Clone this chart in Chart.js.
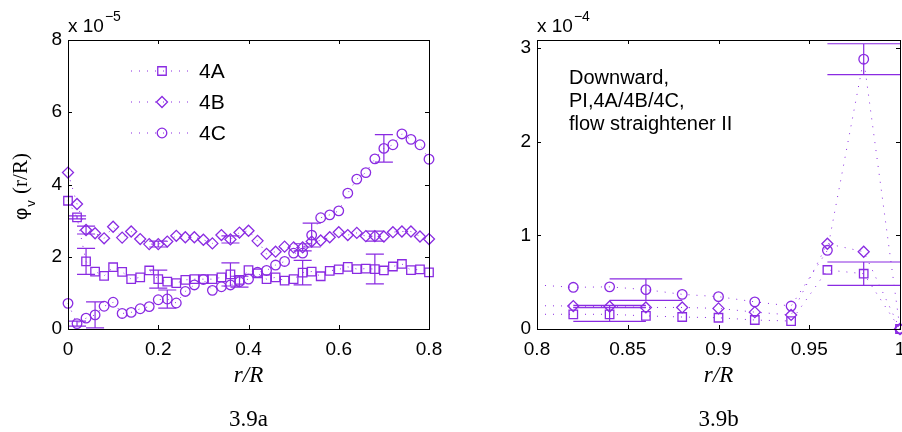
<!DOCTYPE html>
<html>
<head>
<meta charset="utf-8">
<script src="https://cdn.jsdelivr.net/npm/chart.js@4.4.0/dist/chart.umd.min.js"></script>
<style>
  html, body { margin: 0; padding: 0; background: #fff; overflow: hidden; }
  body { width: 902px; height: 432px; position: relative; }
  canvas { position: absolute; top: 0; }
  #chartA { left: 0; }
  #chartB { left: 469px; }
</style>
</head>
<body>
<canvas id="chartA" width="470" height="432"></canvas>
<canvas id="chartB" width="470" height="432"></canvas>
<script>
// ---- 3.9a : r/R from 0 to 0.8, phi_v in units of 1e-5 ----
const rA = [0, 0.02, 0.04, 0.06, 0.08, 0.1, 0.12, 0.14, 0.16, 0.18, 0.2, 0.22, 0.24, 0.26, 0.28, 0.3,
  0.32, 0.34, 0.36, 0.38, 0.4, 0.42, 0.44, 0.46, 0.48, 0.5, 0.52, 0.54, 0.56, 0.58, 0.6, 0.62, 0.64,
  0.66, 0.68, 0.7, 0.72, 0.74, 0.76, 0.78, 0.8];
const a4A = [3.55, 3.09, 1.87, 1.59, 1.47, 1.71, 1.58, 1.38, 1.43, 1.62, 1.38, 1.31, 1.27, 1.36, 1.38, 1.38,
  1.38, 1.43, 1.51, 1.36, 1.63, 1.54, 1.38, 1.43, 1.34, 1.38, 1.56, 1.59, 1.46, 1.61, 1.65, 1.72, 1.66,
  1.67, 1.66, 1.62, 1.73, 1.80, 1.63, 1.65, 1.57];
const a4B = [4.33, 3.46, 2.74, 2.65, 2.51, 2.83, 2.53, 2.70, 2.49, 2.35, 2.35, 2.42, 2.58, 2.54, 2.54, 2.47,
  2.37, 2.60, 2.48, 2.67, 2.72, 2.44, 2.08, 2.14, 2.28, 2.26, 2.26, 2.42, 2.45, 2.54, 2.68, 2.60, 2.66,
  2.57, 2.57, 2.56, 2.68, 2.70, 2.70, 2.56, 2.49];
const a4C = [0.71, 0.15, 0.30, 0.39, 0.63, 0.74, 0.43, 0.46, 0.56, 0.62, 0.81, 0.83, 0.72, 1.04, 1.22, 1.37,
  1.07, 1.17, 1.22, 1.31, 1.38, 1.57, 1.62, 1.77, 1.87, 2.10, 2.10, 2.60, 3.08, 3.16, 3.27, 3.76, 4.15,
  4.33, 4.71, 5.00, 5.10, 5.40, 5.25, 5.10, 4.70];
// error bars: [r/R, half height]
const errA4A = [[0.02, 0.04], [0.04, 0.36], [0.2, 0.25], [0.36, 0.32], [0.52, 0.34], [0.68, 0.41]];
const errA4B = [[0.04, 0.11], [0.2, 0.08], [0.36, 0.1], [0.52, 0.1], [0.68, 0.14]];
const errA4C = [[0.02, 0.07], [0.06, 0.36], [0.22, 0.25], [0.38, 0.15], [0.54, 0.33], [0.7, 0.38]];
const xTicksA = [0, 0.2, 0.4, 0.6, 0.8];
const yTicksA = [0, 2, 4, 6, 8];

// ---- 3.9b : r/R from 0.8 to 1, phi_v in units of 1e-4 ----
const rB = [0.8, 0.82, 0.84, 0.86, 0.88, 0.9, 0.92, 0.94, 0.96, 0.98, 1];
const b4A = [0.157, 0.157, 0.157, 0.14, 0.128, 0.12, 0.096, 0.085, 0.63, 0.59, 0];
const b4B = [0.249, 0.245, 0.24, 0.23, 0.23, 0.22, 0.18, 0.15, 0.91, 0.825, 0];
const b4C = [0.47, 0.445, 0.45, 0.42, 0.37, 0.345, 0.29, 0.245, 0.84, 2.88, 0];
const errB4A = [[0.84, 0.075], [0.98, 0.125]];
const errB4B = [[0.84, 0.013]];
const errB4C = [[0.86, 0.115], [0.98, 0.165]];
const xTicksB = [0.8, 0.85, 0.9, 0.95, 1];
const yTicksB = [0, 1, 2, 3];

const seriesNames = ['4A', '4B', '4C'];
const noteB = ['Downward,', 'PI,4A/4B/4C,', 'flow straightener II'];

const purple = '#8a2be2';
const styles = [
  { pointStyle: 'rect', radius: 6 },
  { pointStyle: 'rectRot', radius: 5.5 },
  { pointStyle: 'circle', radius: 4.8 }
];

function series(i, rs, vals, errs, hideFirst) {
  return {
    label: seriesNames[i],
    data: rs.map((r, k) => ({ x: r, y: vals[k] })),
    errors: errs.map(([r, e]) => ({ x: r, y: vals[rs.findIndex(v => Math.abs(v - r) < 1e-6)], e: e })),
    showLine: true,
    borderColor: purple,
    borderWidth: 1,
    borderDash: [1, 7],
    pointStyle: styles[i].pointStyle,
    pointRadius: ctx => (hideFirst && ctx.dataIndex === 0) ? 0 : styles[i].radius,
    pointBorderColor: purple,
    pointBackgroundColor: 'rgba(0,0,0,0)',
    pointBorderWidth: 1.3,
    clip: false
  };
}

// vertical error bars with MATLAB style wide caps
const errorBars = {
  id: 'errorBars',
  afterDatasetsDraw(chart) {
    const { ctx, scales: { x, y } } = chart;
    ctx.save();
    ctx.strokeStyle = purple;
    ctx.lineWidth = 1.2;
    chart.data.datasets.forEach(ds => {
      ds.errors.forEach(p => {
        const px = x.getPixelForValue(p.x);
        const x0 = x.getPixelForValue(p.x - 0.02), x1 = x.getPixelForValue(p.x + 0.02);
        const yt = y.getPixelForValue(p.y + p.e), yb = y.getPixelForValue(p.y - p.e);
        ctx.beginPath();
        ctx.moveTo(px, yt); ctx.lineTo(px, yb);
        ctx.moveTo(x0, yt); ctx.lineTo(x1, yt);
        ctx.moveTo(x0, yb); ctx.lineTo(x1, yb);
        ctx.stroke();
      });
    });
    ctx.restore();
  }
};

// box, inward ticks, texts
const decor = {
  id: 'decor',
  afterDraw(chart, args, opts) {
    const { ctx, chartArea: a, scales: { x, y } } = chart;
    ctx.save();
    ctx.strokeStyle = '#000';
    ctx.lineWidth = 1;
    ctx.strokeRect(a.left + 0.5, a.top + 0.5, a.right - a.left, a.bottom - a.top);
    ctx.beginPath();
    x.ticks.forEach(t => {
      const px = Math.round(x.getPixelForValue(t.value)) + 0.5;
      ctx.moveTo(px, a.bottom); ctx.lineTo(px, a.bottom - 4);
      ctx.moveTo(px, a.top); ctx.lineTo(px, a.top + 4);
    });
    y.ticks.forEach(t => {
      const py = Math.round(y.getPixelForValue(t.value)) + 0.5;
      ctx.moveTo(a.left, py); ctx.lineTo(a.left + 4, py);
      ctx.moveTo(a.right, py); ctx.lineTo(a.right - 4, py);
    });
    ctx.stroke();

    ctx.fillStyle = '#000';
    // exponent label
    ctx.textBaseline = 'alphabetic';
    ctx.textAlign = 'left';
    ctx.font = '19px "Liberation Sans"';
    ctx.fillText('x 10', a.left, 32);
    const w = ctx.measureText('x 10').width;
    ctx.font = '14px "Liberation Sans"';
    ctx.fillText(opts.exponent, a.left + w + 1, 21);

    // x title and panel letter
    const cx = (a.left + a.right) / 2;
    ctx.textAlign = 'center';
    ctx.textBaseline = 'middle';
    ctx.font = 'italic 23px "Liberation Serif"';
    ctx.fillText('r/R', cx, 376);
    ctx.font = '23px "Liberation Serif"';
    ctx.fillText(opts.letter, cx, 420);

    if (opts.yTitle) {
      ctx.save();
      ctx.translate(27, 220);
      ctx.rotate(-Math.PI / 2);
      ctx.textAlign = 'left';
      ctx.textBaseline = 'alphabetic';
      ctx.font = '19px "Liberation Sans"';
      ctx.fillText('\u03c6', 0, 0);
      let off = ctx.measureText('\u03c6').width;
      ctx.font = '13px "Liberation Sans"';
      ctx.fillText('v', off + 1, 8);
      off += ctx.measureText('v').width + 2;
      ctx.font = '21px "Liberation Serif"';
      ctx.fillText(' (r/R)', off, 0);
      ctx.restore();
    }

    if (opts.legend) {
      chart.data.datasets.forEach((ds, i) => {
        const ly = 71 + i * 31;
        ctx.save();
        ctx.strokeStyle = purple;
        ctx.fillStyle = 'rgba(0,0,0,0)';
        ctx.lineWidth = 1;
        ctx.setLineDash([1, 7]);
        ctx.beginPath();
        ctx.moveTo(131, ly); ctx.lineTo(190, ly);
        ctx.stroke();
        ctx.setLineDash([]);
        ctx.lineWidth = 1.3;
        Chart.helpers.drawPoint(ctx, {
          pointStyle: styles[i].pointStyle, radius: styles[i].radius, borderWidth: 1.3, rotation: 0
        }, 162, ly);
        ctx.restore();
        ctx.fillStyle = '#000';
        ctx.textAlign = 'left';
        ctx.textBaseline = 'middle';
        ctx.font = '21px "Liberation Sans"';
        ctx.fillText(ds.label, 199, ly + 1);
      });
    }

    if (opts.note) {
      ctx.textAlign = 'left';
      ctx.textBaseline = 'alphabetic';
      ctx.font = '20px "Liberation Sans"';
      opts.note.forEach((line, i) => ctx.fillText(line, a.left + 32, 84 + i * 23));
    }
    ctx.restore();
  }
};

function axis(min, max, ticks, isX) {
  return {
    type: 'linear',
    min: min,
    max: max,
    afterBuildTicks: s => { s.ticks = ticks.map(v => ({ value: v })); },
    afterFit: s => { if (isX) s.height = 103; else s.width = 68; },
    grid: { display: false, drawTicks: false },
    border: { display: false },
    ticks: {
      color: '#000',
      font: { family: 'Liberation Sans', size: 19 },
      padding: isX ? 9 : 6,
      maxRotation: 0,
      autoSkip: false,
      callback: v => String(v)
    }
  };
}

function makeChart(id, rs, sets, xr, yr, xt, yt, padRight, decorOpts) {
  return new Chart(document.getElementById(id).getContext('2d'), {
    type: 'scatter',
    data: { datasets: sets },
    options: {
      responsive: false,
      animation: false,
      layout: { padding: { left: 0, top: 40, right: padRight, bottom: 0 } },
      scales: { x: axis(xr[0], xr[1], xt, true), y: axis(yr[0], yr[1], yt, false) },
      plugins: { legend: { display: false }, tooltip: { enabled: false }, decor: decorOpts }
    },
    plugins: [errorBars, decor]
  });
}

makeChart('chartA', rA, [
  series(0, rA, a4A, errA4A, false),
  series(1, rA, a4B, errA4B, false),
  series(2, rA, a4C, errA4C, false)
], [0, 0.8], [0, 8], xTicksA, yTicksA, 41,
  { exponent: '\u22125', letter: '3.9a', yTitle: true, legend: true });

makeChart('chartB', rB, [
  series(0, rB, b4A, errB4A, true),
  series(1, rB, b4B, errB4B, true),
  series(2, rB, b4C, errB4C, true)
], [0.8, 1], [0, 3.085], xTicksB, yTicksB, 39,
  { exponent: '\u22124', letter: '3.9b', note: noteB });
</script>
</body>
</html>
